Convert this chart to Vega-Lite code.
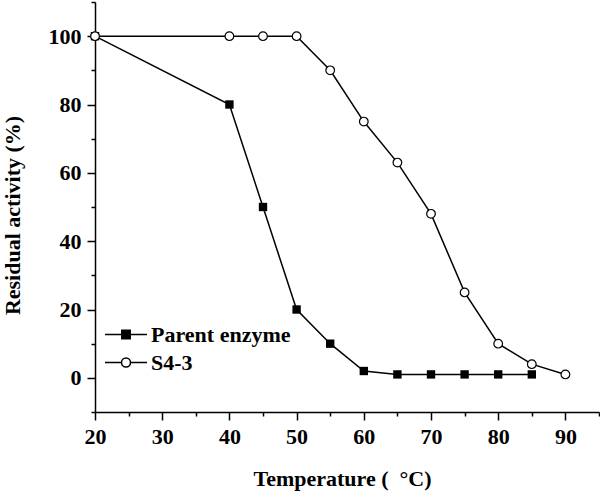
{
  "$schema": "https://vega.github.io/schema/vega-lite/v6.json",
  "width": 504,
  "height": 410,
  "autosize": {"type": "none"},
  "padding": {"left": 95, "top": 2, "right": 1, "bottom": 84},
  "background": "white",
  "config": {
    "view": {"stroke": null},
    "font": "Liberation Serif",
    "axis": {
      "domainColor": "black", "domainWidth": 1.5,
      "tickColor": "black", "tickWidth": 1.5,
      "labelFont": "Liberation Serif", "labelFontWeight": "bold", "labelFontSize": 22, "labelColor": "black",
      "titleFont": "Liberation Serif", "titleFontWeight": "bold", "titleFontSize": 22, "titleColor": "black",
      "grid": false
    }
  },
  "data": {
    "values": [
      {"temp": 20, "activity": 100, "series": "Parent enzyme"},
      {"temp": 40, "activity": 80, "series": "Parent enzyme"},
      {"temp": 45, "activity": 50, "series": "Parent enzyme"},
      {"temp": 50, "activity": 20, "series": "Parent enzyme"},
      {"temp": 55, "activity": 10, "series": "Parent enzyme"},
      {"temp": 60, "activity": 2, "series": "Parent enzyme"},
      {"temp": 65, "activity": 1, "series": "Parent enzyme"},
      {"temp": 70, "activity": 1, "series": "Parent enzyme"},
      {"temp": 75, "activity": 1, "series": "Parent enzyme"},
      {"temp": 80, "activity": 1, "series": "Parent enzyme"},
      {"temp": 85, "activity": 1, "series": "Parent enzyme"},
      {"temp": 20, "activity": 100, "series": "S4-3"},
      {"temp": 40, "activity": 100, "series": "S4-3"},
      {"temp": 45, "activity": 100, "series": "S4-3"},
      {"temp": 50, "activity": 100, "series": "S4-3"},
      {"temp": 55, "activity": 90, "series": "S4-3"},
      {"temp": 60, "activity": 75, "series": "S4-3"},
      {"temp": 65, "activity": 63, "series": "S4-3"},
      {"temp": 70, "activity": 48, "series": "S4-3"},
      {"temp": 75, "activity": 25, "series": "S4-3"},
      {"temp": 80, "activity": 10, "series": "S4-3"},
      {"temp": 85, "activity": 4, "series": "S4-3"},
      {"temp": 90, "activity": 1, "series": "S4-3"}
    ]
  },
  "encoding": {
    "x": {
      "field": "temp", "type": "quantitative",
      "scale": {"domain": [20, 95], "nice": false, "zero": false},
      "axis": {
        "title": "Temperature (\u00a0\u00a0°C)",
        "values": [20, 25, 30, 35, 40, 45, 50, 55, 60, 65, 70, 75, 80, 85, 90, 95],
        "labelExpr": "datum.value % 10 === 0 ? datum.label : ''",
        "tickSize": {"condition": {"test": "datum.value % 10 === 0", "value": 8}, "value": 4},
        "labelPadding": 6,
        "titlePadding": 21,
        "titleX": 247,
        "labelFlush": false
      }
    },
    "y": {
      "field": "activity", "type": "quantitative",
      "scale": {"domain": [-10, 110], "nice": false, "zero": false},
      "axis": {
        "title": "Residual activity (%)",
        "values": [-10, 0, 10, 20, 30, 40, 50, 60, 70, 80, 90, 100, 110],
        "labelExpr": "(datum.value % 20 === 0 && datum.value >= 0 && datum.value <= 100) ? datum.label : ''",
        "tickSize": {"condition": {"test": "datum.value % 20 === 0", "value": 8}, "value": 4},
        "labelPadding": 6,
        "titlePadding": 24,
        "titleY": 213,
        "labelFlush": false
      }
    }
  },
  "layer": [
    {
      "mark": {"type": "line", "color": "black", "strokeWidth": 1.5},
      "encoding": {"detail": {"field": "series"}}
    },
    {
      "transform": [{"filter": "datum.series === 'Parent enzyme'"}],
      "mark": {"type": "point", "shape": "square", "filled": true, "color": "black", "size": 70, "opacity": 1}
    },
    {
      "transform": [{"filter": "datum.series === 'S4-3'"}],
      "mark": {"type": "point", "shape": "circle", "filled": true, "fill": "white", "stroke": "black", "strokeWidth": 1.2, "size": 75, "opacity": 1}
    },
    {
      "transform": [{"filter": "false"}],
      "mark": {"type": "point", "filled": true, "strokeWidth": 1.5, "opacity": 1},
      "encoding": {
        "shape": {
          "field": "series", "type": "nominal",
          "scale": {
            "domain": ["Parent enzyme", "S4-3"],
            "range": [
              "M-2,0H2M-0.4,-0.4H0.4V0.4H-0.4Z",
              "M-2,0H-0.43M0.43,0H2M0.43,0A0.43,0.43 0 1 1 -0.43,0A0.43,0.43 0 1 1 0.43,0Z"
            ]
          },
          "legend": {
            "title": null,
            "orient": "none",
            "legendX": 19.5,
            "legendY": 321,
            "padding": 0,
            "symbolSize": 441,
            "symbolStrokeWidth": 1.5,
            "symbolOpacity": 1,
            "labelFont": "Liberation Serif",
            "labelFontWeight": "bold",
            "labelFontSize": 22,
            "labelColor": "black",
            "labelOffset": 13.5,
            "rowPadding": 5,
            "labelLimit": 300
          }
        },
        "fill": {
          "field": "series", "type": "nominal",
          "scale": {"domain": ["Parent enzyme", "S4-3"], "range": ["black", "white"]}
        },
        "stroke": {
          "field": "series", "type": "nominal",
          "scale": {"domain": ["Parent enzyme", "S4-3"], "range": ["black", "black"]}
        }
      }
    }
  ]
}
